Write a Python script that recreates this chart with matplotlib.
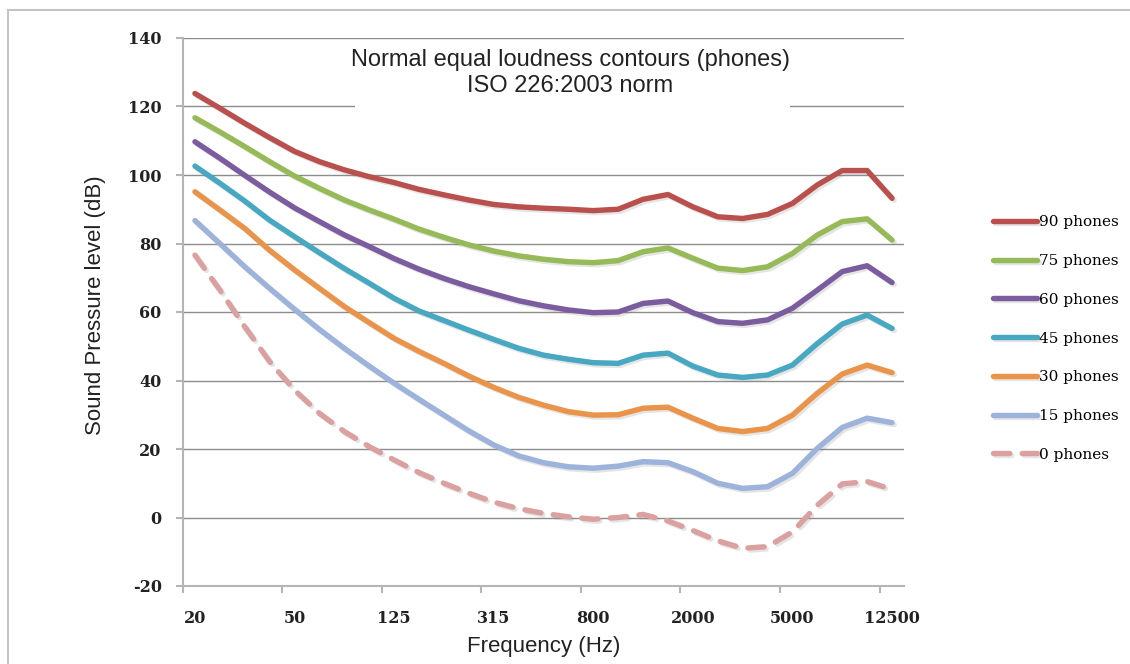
import matplotlib
matplotlib.use("Agg")
import matplotlib.pyplot as plt
import matplotlib.patheffects as pe
from matplotlib.lines import Line2D
from matplotlib.patches import Rectangle
import numpy as np

plt.rcParams["axes.unicode_minus"] = False

# ISO 226:2003 third-octave centre frequencies (Hz)
freq_labels = ["20", "25", "31.5", "40", "50", "63", "80", "100", "125", "160",
               "200", "250", "315", "400", "500", "630", "800", "1000", "1250",
               "1600", "2000", "2500", "3150", "4000", "5000", "6300", "8000",
               "10000", "12500"]

# sound pressure level (dB) along each contour
phon_90 = [123.8, 119.5, 115.1, 110.9, 106.9, 103.9, 101.5, 99.5, 97.8, 95.8,
           94.2, 92.7, 91.4, 90.7, 90.3, 90.0, 89.6, 90.0, 92.9, 94.3,
           90.7, 87.8, 87.3, 88.5, 91.7, 97.1, 101.3, 101.3, 93.2]
phon_75 = [116.7, 112.6, 108.3, 103.9, 99.7, 96.1, 92.7, 89.8, 87.1, 84.2,
           81.8, 79.6, 77.8, 76.4, 75.4, 74.7, 74.4, 75.0, 77.6, 78.7,
           75.7, 72.8, 72.1, 73.2, 77.1, 82.5, 86.4, 87.2, 81.0]
phon_60 = [109.7, 104.9, 99.9, 95.0, 90.4, 86.4, 82.5, 79.1, 75.6, 72.5,
           69.8, 67.4, 65.3, 63.3, 61.8, 60.6, 59.8, 60.0, 62.5, 63.2,
           59.8, 57.2, 56.7, 57.7, 61.1, 66.4, 71.8, 73.5, 68.6]
phon_45 = [102.6, 97.6, 92.4, 86.8, 82.0, 77.3, 72.7, 68.4, 64.0, 60.3,
           57.5, 54.7, 52.0, 49.4, 47.4, 46.2, 45.2, 45.0, 47.4, 48.0,
           44.2, 41.6, 40.9, 41.6, 44.5, 50.8, 56.5, 59.1, 55.2]
phon_30 = [95.1, 89.8, 84.4, 78.0, 72.3, 66.9, 61.6, 56.9, 52.3, 48.5,
           45.0, 41.3, 38.0, 35.1, 32.8, 30.9, 29.9, 30.0, 31.9, 32.2,
           29.0, 26.0, 25.1, 26.0, 29.9, 36.3, 41.9, 44.5, 42.3]
phon_15 = [86.7, 80.0, 73.2, 66.9, 60.8, 54.9, 49.4, 44.2, 39.2, 34.5,
           29.9, 25.3, 21.2, 18.0, 16.0, 14.8, 14.4, 15.0, 16.3, 16.0,
           13.4, 10.0, 8.5, 9.0, 12.9, 20.2, 26.3, 29.0, 27.7]
phon_0 = [76.6, 66.4, 55.7, 45.5, 37.2, 30.4, 25.1, 20.7, 16.8, 13.1,
          10.0, 7.1, 4.5, 2.6, 1.2, 0.2, -0.5, 0.0, 0.9, -1.0,
          -3.8, -6.8, -9.0, -8.5, -4.2, 3.6, 9.8, 10.5, 8.2]

series = [
    ("90 phones", phon_90, "#B9504D", False),
    ("75 phones", phon_75, "#97BA58", False),
    ("60 phones", phon_60, "#7B5C9F", False),
    ("45 phones", phon_45, "#48A8C1", False),
    ("30 phones", phon_30, "#E9944A", False),
    ("15 phones", phon_15, "#9DB3DB", False),
    ("0 phones", phon_0, "#DBA0A0", True),
]

W, H = 1130, 664
fig = plt.figure(figsize=(W / 100, H / 100), dpi=100)
ax = fig.add_axes([182.5 / W, 1 - 586 / H, 722 / W, 548 / H])

shadow = [pe.SimpleLineShadow(offset=(1.5, -1.5), shadow_color="#808080", alpha=0.2),
          pe.Normal()]
x = np.arange(len(freq_labels))
for label, values, color, dashed in series:
    line, = ax.plot(x, values, color=color, lw=3.9, label=label, zorder=3,
                    solid_capstyle="round", solid_joinstyle="round",
                    dash_capstyle="round", path_effects=shadow)
    if dashed:
        line.set_dashes((3.0, 2.3))

ax.set_xlim(-0.5, len(freq_labels) - 0.5)
ax.set_ylim(-20, 140)
ax.set_yticks(range(-20, 141, 20))
ax.set_xticks(x[::4])
ax.set_xticklabels(freq_labels[::4])
ax.set_xticks(np.arange(-0.5, len(freq_labels) - 1, 4), minor=True)

tick_font = {"family": "DejaVu Serif", "weight": "bold", "size": 11.5}
for t in ax.get_xticklabels() + ax.get_yticklabels():
    t.set_fontproperties(matplotlib.font_manager.FontProperties(**tick_font))
    t.set_color("#222222")
ax.tick_params(axis="x", which="major", length=0, pad=17)
ax.tick_params(axis="x", which="minor", length=5, width=1.5, color="#b5b5b5")
ax.tick_params(axis="y", length=5, width=1.5, color="#b5b5b5", pad=10)

ax.yaxis.grid(True, color="#8c8c8c", lw=1.0)
ax.set_axisbelow(True)
for side in ["top", "right"]:
    ax.spines[side].set_visible(False)
for side in ["left", "bottom"]:
    ax.spines[side].set_color("#b5b5b5")
    ax.spines[side].set_linewidth(1.5)

# white box holding the chart title
ax.add_patch(Rectangle((0.239, 0.865), 0.602, 0.128, transform=ax.transAxes,
                       facecolor="white", edgecolor="none", zorder=2))
ax.text(0.537, 0.936, "Normal equal loudness contours (phones)\nISO 226:2003 norm",
        transform=ax.transAxes, ha="center", va="center", fontsize=17,
        family="Liberation Sans", linespacing=1.25, color="#222222", zorder=4)

ax.set_ylabel("Sound Pressure level (dB)", family="Liberation Sans", fontsize=16,
              color="#222222")
ax.yaxis.set_label_coords(-0.106, 0.513)
ax.set_xlabel("Frequency (Hz)", family="Liberation Sans", fontsize=16, color="#222222")
ax.xaxis.set_label_coords(0.5, -0.092)

fig.legend(loc="center left", bbox_to_anchor=(993 / W, 1 - 338.5 / H), frameon=False,
           borderpad=0, borderaxespad=0, handlelength=2.9, handletextpad=0.1,
           labelspacing=1.62, prop={"family": "DejaVu Serif", "size": 11})

# outer chart border
fig.add_artist(Line2D([8 / W, 8 / W], [0, 1 - 10 / H], transform=fig.transFigure,
                      color="#c4c4c4", lw=1.5))
fig.add_artist(Line2D([8 / W, 1], [1 - 10 / H, 1 - 10 / H], transform=fig.transFigure,
                      color="#c4c4c4", lw=1.5))

fig.savefig("out.png", dpi=100, facecolor="white")
